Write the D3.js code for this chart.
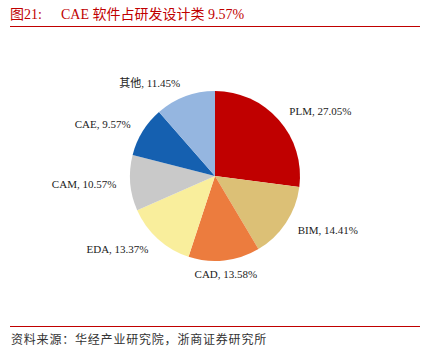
<!DOCTYPE html>
<meta charset="utf-8">
<style>
body { margin: 0; background: #fff; }
svg { display: block; }
.title { font-family: 'Liberation Serif', 'Noto Sans CJK SC', serif; font-size: 14px; fill: #c00000; }
.lbl { font-family: 'Liberation Serif', 'Noto Sans CJK SC', serif; font-size: 11px; fill: #222; }
.src { font-family: 'Noto Sans CJK SC', sans-serif; font-size: 12px; letter-spacing: 0.8px; fill: #333; }
</style>
<body>
<div id="chart"></div>
<script src="https://cdn.jsdelivr.net/npm/d3@7"></script>
<script>
var names = ['PLM', 'BIM', 'CAD', 'EDA', 'CAM', 'CAE', '其他'];
var shares = [27.05, 14.41, 13.58, 13.37, 10.57, 9.57, 11.45];
var colors = ['#c00000', '#dcc076', '#ec7c3e', '#f9ee9c', '#c9c9c9', '#1560b0', '#95b6e0'];

var W = 432, H = 359;
var svg = d3.select('#chart').append('svg')
  .attr('width', W)
  .attr('height', H);

// header
svg.append('text')
  .attr('class', 'title')
  .attr('x', 10)
  .attr('y', 19)
  .text('图21:');
svg.append('text')
  .attr('class', 'title')
  .attr('x', 61)
  .attr('y', 19)
  .text('CAE 软件占研发设计类 9.57%');
svg.append('line')
  .attr('x1', 10).attr('x2', 420)
  .attr('y1', 26.5).attr('y2', 26.5)
  .attr('stroke', '#c00000').attr('stroke-width', 1);

// footer
svg.append('line')
  .attr('x1', 10).attr('x2', 420)
  .attr('y1', 326.5).attr('y2', 326.5)
  .attr('stroke', '#c00000').attr('stroke-width', 1);
svg.append('text')
  .attr('class', 'src')
  .attr('x', 11)
  .attr('y', 344)
  .text('资料来源：华经产业研究院，浙商证券研究所');

var data = names.map(function(n, i) { return { name: n, value: shares[i], color: colors[i] }; });

var cx = 215, cy = 176, r = 85;
var pie = d3.pie().sort(null).value(function(d) { return d.value; });
var arc = d3.arc().innerRadius(0).outerRadius(r);

var g = svg.append('g').attr('transform', 'translate(' + cx + ',' + cy + ')');
var slices = pie(data);

g.selectAll('path')
  .data(slices)
  .enter().append('path')
  .attr('d', arc)
  .attr('fill', function(d) { return d.data.color; });

var lr = 99;
g.selectAll('text')
  .data(slices)
  .enter().append('text')
  .attr('class', 'lbl')
  .attr('x', function(d) { return lr * Math.sin((d.startAngle + d.endAngle) / 2); })
  .attr('y', function(d) { return -lr * Math.cos((d.startAngle + d.endAngle) / 2); })
  .attr('dy', '0.35em')
  .attr('text-anchor', function(d) {
    var s = Math.sin((d.startAngle + d.endAngle) / 2);
    return s > 0.3 ? 'start' : (s < -0.3 ? 'end' : 'middle');
  })
  .text(function(d) { return d.data.name + ', ' + d.data.value.toFixed(2) + '%'; });
</script>
</body>
